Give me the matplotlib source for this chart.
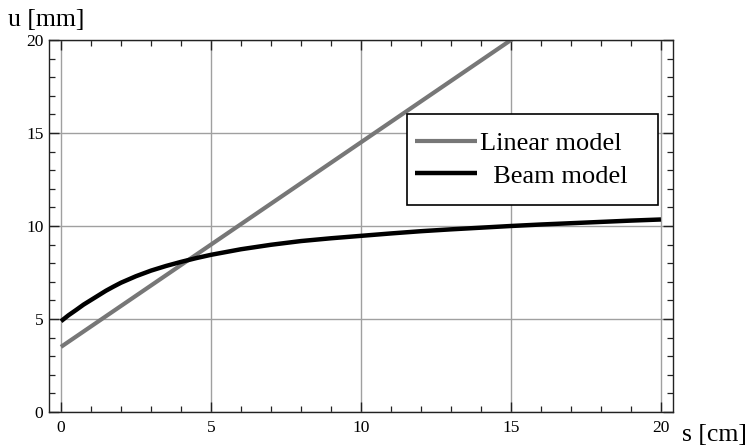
import matplotlib
matplotlib.use("Agg")
import matplotlib.pyplot as plt
from matplotlib.ticker import MultipleLocator
from matplotlib.patches import Rectangle

plt.rcParams['font.family'] = ['Liberation Serif', 'DejaVu Serif']
plt.rcParams['xtick.labelsize'] = 12.5
plt.rcParams['ytick.labelsize'] = 12.5

# Data
lin_s = [0, 20]
lin_u = [3.5, 25.5]
beam_s = [0, 0.25, 0.5, 0.75, 1, 1.25, 1.5, 1.75, 2, 2.5, 3, 3.5, 4, 4.5, 5, 6, 7, 8,
          9, 10, 11, 12, 13, 14, 15, 16, 17, 18, 19, 20]
beam_u = [4.88, 5.2, 5.48, 5.77, 6.02, 6.27, 6.52, 6.74, 6.95, 7.3, 7.6, 7.85, 8.07,
          8.27, 8.45, 8.75, 8.99, 9.19, 9.34, 9.47, 9.6, 9.72, 9.82, 9.91, 10.0,
          10.08, 10.15, 10.22, 10.29, 10.35]
labels = ["Linear model", "  Beam model"]
xlabel = "s [cm]"
ylabel = "u [mm]"

fig = plt.figure(figsize=(7.49, 4.48), dpi=100)
ax = fig.add_axes([0.0654, 0.0804, 0.8331, 0.8303])

ax.set_xlim(-0.4, 20.4)
ax.set_ylim(0, 20)

ax.xaxis.set_major_locator(MultipleLocator(5))
ax.xaxis.set_minor_locator(MultipleLocator(1))
ax.yaxis.set_major_locator(MultipleLocator(5))
ax.yaxis.set_minor_locator(MultipleLocator(1))

ax.grid(True, which='major', color='#a0a0a0', linewidth=1.0)
ax.set_axisbelow(True)

ax.tick_params(which='both', direction='in', top=True, right=True,
               labelsize=12.5, color='#222222')
ax.tick_params(which='major', length=7, width=1.0)
ax.tick_params(which='minor', length=4, width=0.9)
ax.tick_params(axis='x', pad=6)
ax.tick_params(axis='y', pad=4)
for sp in ax.spines.values():
    sp.set_linewidth(1.0)
    sp.set_color('#222222')

l1, = ax.plot(lin_s, lin_u, color='#777777', linewidth=3.0, solid_capstyle='butt',
              label=labels[0])
l2, = ax.plot(beam_s, beam_u, color='#000000', linewidth=3.2, solid_capstyle='butt',
              solid_joinstyle='round', label=labels[1])

# Legend with frame
rect = Rectangle((406.7 / 749, (448 - 205) / 448), (657.7 - 406.7) / 749, (205 - 114.3) / 448,
                 transform=fig.transFigure, facecolor='white', edgecolor='black',
                 linewidth=1.2, zorder=5)
fig.patches.append(rect)
leg = fig.legend(handles=[l1, l2], labels=labels, loc='upper left',
                 bbox_to_anchor=(397 / 749, (448 - 113) / 448), frameon=False,
                 fontsize=19, handlelength=2.35, handletextpad=0.1, labelspacing=0.35,
                 borderpad=0.2)
leg.set_zorder(6)

fig.text(8 / 749, (448 - 26) / 448, ylabel, fontsize=18.5, ha='left', va='baseline')
fig.text(682 / 749, (448 - 441) / 448, xlabel, fontsize=18.5, ha='left', va='baseline')

fig.savefig("out.png", dpi=100)
